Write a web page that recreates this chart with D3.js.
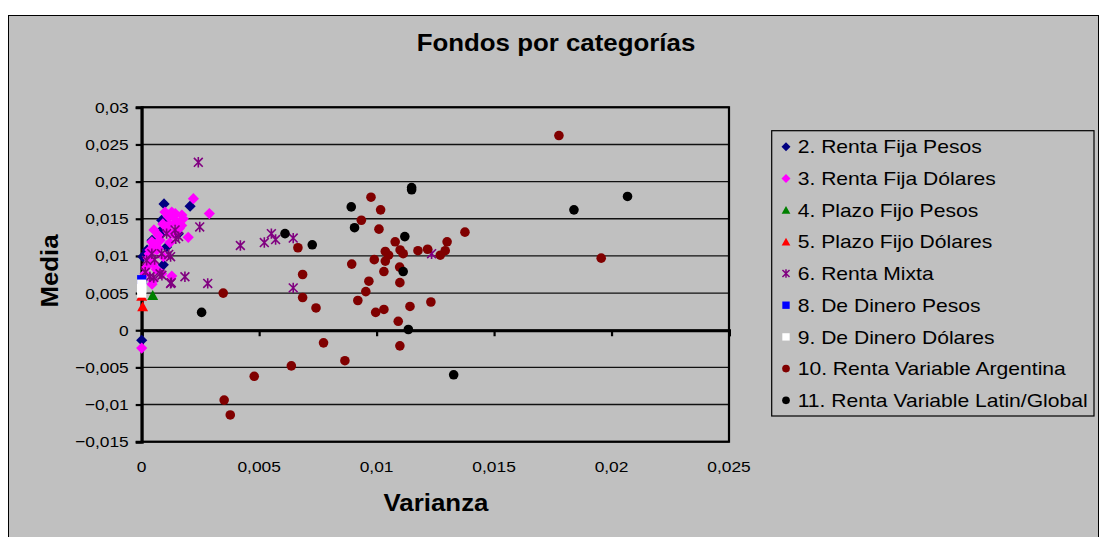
<!DOCTYPE html>
<html>
<head>
<meta charset="utf-8">
<script src="https://cdn.jsdelivr.net/npm/d3@7"></script>
<style>
  html, body { margin: 0; padding: 0; background: #fff; }
  svg { display: block; font-family: "Liberation Sans", Arial, sans-serif; }
</style>
</head>
<body>
<svg id="chart" width="1100" height="537"></svg>
<script>
// Each fund: [varianza, media]
const rentaFijaPesos = [
  [0.00095, 0.0170], [0.00206, 0.0167], [0.00000, -0.00135], [0.00005, 0.0099],
  [0.00085, 0.0148], [0.00078, 0.0128], [0.00092, 0.0088], [0.00106, 0.0112],
  [0.00156, 0.0130], [0.00044, 0.0121], [0.00023, 0.0108], [0.00086, 0.0135],
  [0.00100, 0.0146]
];
const rentaFijaDolares = [
  [0.00220, 0.0177], [0.00288, 0.0157], [0.00198, 0.0125], [0.00177, 0.0150],
  [0.00170, 0.0141], [0.00128, 0.0159], [0.00099, 0.0159], [0.00113, 0.0153],
  [0.00134, 0.0153], [0.00149, 0.0146], [0.00052, 0.0135], [0.00078, 0.0121],
  [0.00043, 0.0119], [0.00035, 0.0108], [0.00064, 0.0108], [0.00049, 0.0090],
  [0.00021, 0.0085], [0.00014, 0.0076], [0.00049, 0.0067], [0.00128, 0.0073],
  [0.00000, -0.0024], [0.00092, 0.0099], [0.00134, 0.0130], [0.00106, 0.0139],
  [0.00071, 0.0110], [0.00028, 0.0097], [0.00085, 0.0076], [0.00143, 0.0157],
  [0.00171, 0.0155], [0.00044, 0.0062], [0.00060, 0.0112], [0.00120, 0.0142],
  [0.00090, 0.0143], [0.00112, 0.0133], [0.00070, 0.0128], [0.00052, 0.0115],
  [0.00032, 0.0103], [0.00120, 0.0118], [0.00160, 0.0137], [0.00062, 0.0082]
];
const plazoFijoPesos = [[0.00047, 0.0047]];
const plazoFijoDolares = [[0.00004, 0.0032], [0.00000, 0.0046]];
const rentaMixta = [
  [0.00241, 0.0226], [0.00247, 0.0139], [0.00420, 0.0114], [0.00522, 0.0118],
  [0.00552, 0.0130], [0.00570, 0.0122], [0.00645, 0.0124], [0.00645, 0.0057],
  [0.00281, 0.0063], [0.00184, 0.0072], [0.00123, 0.0063], [0.00123, 0.0099],
  [0.00145, 0.0123], [0.00142, 0.0135], [0.00078, 0.0076], [0.00035, 0.0072],
  [0.00043, 0.0103], [0.00085, 0.0103], [0.00021, 0.0094], [0.00106, 0.0130],
  [0.01234, 0.0103], [0.00157, 0.0126], [0.00051, 0.0071], [0.00086, 0.0074],
  [0.00126, 0.0064], [0.00015, 0.0078], [0.00055, 0.0095], [0.00115, 0.0102]
];
const deDineroPesos = [[0.00000, 0.0068]];
const deDineroDolares = [[0.00000, 0.0062], [0.00000, 0.0056], [0.00000, 0.0050]];
const rentaVariableArgentina = [
  [0.00976, 0.0179], [0.01017, 0.0162], [0.00935, 0.0148], [0.01010, 0.0136],
  [0.01376, 0.0132], [0.00665, 0.0111], [0.01079, 0.0119], [0.01300, 0.0119],
  [0.01292, 0.0107], [0.01271, 0.0101], [0.01217, 0.0109], [0.01176, 0.0107],
  [0.01100, 0.0108], [0.01113, 0.0103], [0.01037, 0.0106], [0.01051, 0.0101],
  [0.01037, 0.0093], [0.00990, 0.0095], [0.00894, 0.0089], [0.01098, 0.0085],
  [0.01031, 0.0079], [0.00685, 0.0075], [0.00967, 0.0066], [0.01099, 0.0064],
  [0.00954, 0.0052], [0.00685, 0.0044], [0.00920, 0.0040], [0.00742, 0.0030],
  [0.01142, 0.0032], [0.01231, 0.0038], [0.00996, 0.0024], [0.01031, 0.0028],
  [0.01092, 0.0012], [0.00774, -0.0017], [0.01099, -0.0021], [0.00865, -0.0041],
  [0.00637, -0.0048], [0.00347, 0.0050], [0.00479, -0.0062], [0.00351, -0.0094],
  [0.00377, -0.0114], [0.01956, 0.0097], [0.01776, 0.0262]
];
const rentaVariableLatinGlobal = [
  [0.01149, 0.0192], [0.01149, 0.0189], [0.00892, 0.0166], [0.00906, 0.0138],
  [0.00610, 0.0130], [0.00726, 0.0115], [0.01120, 0.0126], [0.01113, 0.0079],
  [0.01135, 0.0001], [0.01328, -0.0060], [0.00255, 0.0024], [0.01840, 0.0162],
  [0.02068, 0.0180]
];

const xTicks = [0, 0.005, 0.01, 0.015, 0.02, 0.025];
const yTicks = [-0.015, -0.01, -0.005, 0, 0.005, 0.01, 0.015, 0.02, 0.025, 0.03];

const titleText = "Fondos por categorías";
const xLabel = "Varianza";
const yLabel = "Media";

// Custom marker shapes (r = half extent in px)
const shapes = {
  diamond: r => `M0,${-r}L${r},0L0,${r}L${-r},0Z`,
  triangle: r => `M0,${-r}L${r * 1.05},${r * 0.9}L${-r * 1.05},${r * 0.9}Z`,
  square: r => `M${-r},${-r}H${r}V${r}H${-r}Z`,
  circle: r => `M${r},0A${r},${r} 0 1,1 ${-r},0A${r},${r} 0 1,1 ${r},0Z`,
  star: r => `M${-r * 0.85},${-r * 0.85}L${r * 0.85},${r * 0.85}M${r * 0.85},${-r * 0.85}L${-r * 0.85},${r * 0.85}M0,${-r}V${r}`
};

const series = [
  { name: "2. Renta Fija Pesos", data: rentaFijaPesos, shape: "diamond", r: 5.6, color: "#000080" },
  { name: "3. Renta Fija Dólares", data: rentaFijaDolares, shape: "diamond", r: 5.6, color: "#FF00FF" },
  { name: "4. Plazo Fijo Pesos", data: plazoFijoPesos, shape: "triangle", r: 5.2, color: "#008000" },
  { name: "5. Plazo Fijo Dólares", data: plazoFijoDolares, shape: "triangle", r: 5.2, color: "#FF0000" },
  { name: "6. Renta Mixta", data: rentaMixta, shape: "star", r: 5.2, color: "#800080", stroke: true },
  { name: "8. De Dinero Pesos", data: deDineroPesos, shape: "square", r: 4.6, color: "#0000FF" },
  { name: "9. De Dinero Dólares", data: deDineroDolares, shape: "square", r: 4.6, color: "#FFFFFF" },
  { name: "10. Renta Variable Argentina", data: rentaVariableArgentina, shape: "circle", r: 4.8, color: "#800000" },
  { name: "11. Renta Variable Latin/Global", data: rentaVariableLatinGlobal, shape: "circle", r: 4.8, color: "#000000" }
];

const svg = d3.select("#chart");
const plot = { left: 141.7, right: 729, top: 107.3, bottom: 441.7 };

const locale = d3.formatLocale({ decimal: ",", thousands: ".", grouping: [3], currency: ["$", ""] });
const fmt = locale.format("~g");

// Stretch text horizontally a little to get the wide look of the labels
function widen(sel, k) {
  sel.each(function () {
    const len = this.getComputedTextLength();
    d3.select(this).attr("textLength", len * k).attr("lengthAdjust", "spacingAndGlyphs");
  });
}

// Chart area
svg.append("rect").attr("x", 8.5).attr("y", 15.5).attr("width", 1090).attr("height", 540)
  .attr("fill", "#C0C0C0").attr("stroke", "#000").attr("stroke-width", 1);

const x = d3.scaleLinear().domain([0, 0.025]).range([plot.left, plot.right]);
const y = d3.scaleLinear().domain([-0.015, 0.03]).range([plot.bottom, plot.top]);

// Horizontal gridlines
svg.append("g").selectAll("line").data(yTicks).join("line")
  .attr("x1", plot.left).attr("x2", plot.right)
  .attr("y1", d => y(d)).attr("y2", d => y(d))
  .attr("stroke", "#111").attr("stroke-width", 1.4);

// Plot border
svg.append("rect").attr("x", plot.left).attr("y", plot.top)
  .attr("width", plot.right - plot.left).attr("height", plot.bottom - plot.top)
  .attr("fill", "none").attr("stroke", "#000").attr("stroke-width", 2.2);

// Y axis (left)
const yAxis = d3.axisLeft(y).tickValues(yTicks).tickFormat(fmt).tickSize(6).tickPadding(7);
const gy = svg.append("g").attr("transform", `translate(${plot.left},0)`).call(yAxis);
gy.select(".domain").attr("stroke-width", 3);
gy.selectAll(".tick line").attr("stroke-width", 2.2);
gy.selectAll(".tick text").attr("font-size", 15.5).attr("fill", "#000")
  .attr("font-family", "Liberation Sans, Arial, sans-serif").call(widen, 1.12);

// X axis line at media = 0 with small ticks
const xAxis = d3.axisBottom(x).tickValues(xTicks).tickFormat("").tickSize(6);
const gx = svg.append("g").attr("transform", `translate(0,${y(0)})`).call(xAxis);
gx.select(".domain").attr("stroke-width", 3);
gx.selectAll(".tick line").attr("stroke-width", 2.2);

// X tick labels along the bottom
svg.append("g").selectAll("text").data(xTicks).join("text")
  .attr("x", d => x(d)).attr("y", 471.5)
  .attr("text-anchor", "middle").attr("font-size", 15.5).attr("fill", "#000")
  .text(fmt).call(widen, 1.12);

// Markers, drawn in series order
series.forEach(s => {
  const g = svg.append("g");
  g.selectAll("path").data(s.data).join("path")
    .attr("transform", d => `translate(${x(d[0])},${y(d[1])})`)
    .attr("d", shapes[s.shape](s.r))
    .attr("fill", s.stroke ? "none" : s.color)
    .attr("stroke", s.stroke ? s.color : "none")
    .attr("stroke-width", s.stroke ? 1.6 : 0);
});

// Title and axis titles
svg.append("text").attr("x", 556).attr("y", 51).attr("text-anchor", "middle")
  .attr("font-size", 23.5).attr("font-weight", "bold").text(titleText).call(widen, 1.1);
svg.append("text").attr("x", 436).attr("y", 511).attr("text-anchor", "middle")
  .attr("font-size", 23.5).attr("font-weight", "bold").text(xLabel).call(widen, 1.1);
svg.append("text").attr("transform", "translate(58,271) rotate(-90)").attr("text-anchor", "middle")
  .attr("font-size", 23.5).attr("font-weight", "bold").text(yLabel).call(widen, 1.1);

// Legend
const leg = { x: 771.7, y: 130.7, w: 322.3, h: 285.3, row: 31.7, first: 146.7 };
svg.append("rect").attr("x", leg.x).attr("y", leg.y).attr("width", leg.w).attr("height", leg.h)
  .attr("fill", "#C0C0C0").attr("stroke", "#000").attr("stroke-width", 1.2);
const items = svg.append("g").selectAll("g").data(series).join("g")
  .attr("transform", (d, i) => `translate(0,${leg.first + i * leg.row})`);
items.append("path")
  .attr("transform", "translate(786,0)")
  .attr("d", d => shapes[d.shape](d.r * 0.8))
  .attr("fill", d => d.stroke ? "none" : d.color)
  .attr("stroke", d => d.stroke ? d.color : "none")
  .attr("stroke-width", d => d.stroke ? 1.5 : 0);
items.append("text").attr("x", 797.7).attr("y", 6.6)
  .attr("font-size", 18.5).attr("fill", "#000").text(d => d.name).call(widen, 1.14);
</script>
</body>
</html>
